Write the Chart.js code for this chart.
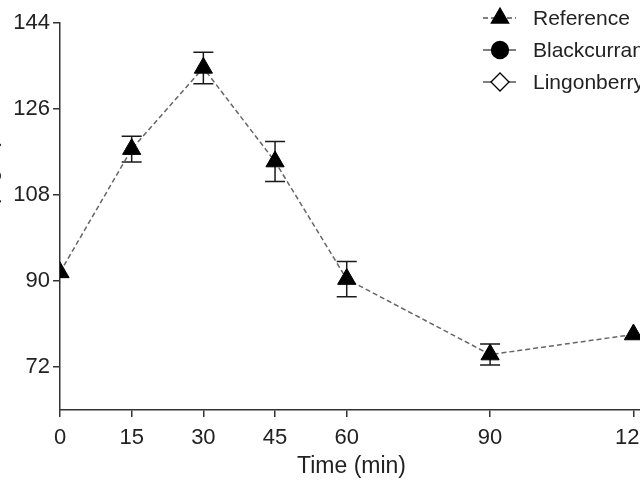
<!DOCTYPE html>
<html>
<head>
<meta charset="utf-8">
<script src="https://cdn.jsdelivr.net/npm/chart.js@4"></script>
<style>
    html, body { margin: 0; padding: 0; background: #fff; overflow: hidden; width: 640px; height: 480px; }
    #wrap { position: absolute; left: -25px; top: 0; width: 720px; height: 480px; }
</style>
</head>
<body>
<div id="wrap"><canvas id="glucoseChart" width="720" height="480"></canvas></div>
<script>
// -------------------------------------------------------------------------- Data

const times = [0, 15, 30, 45, 60, 90, 120]
const referenceMean = [91.8, 117.6, 134.6, 115.0, 90.4, 74.6, 78.8]
// sem of 0 = bar hidden behind the symbol
const referenceSem = [0, 2.7, 3.3, 4.2, 3.7, 2.2, 0]
const blackcurrantMean = []
const lingonberryMean = []

const xTicks = [0, 15, 30, 45, 60, 90, 120]
const yTicks = [72, 90, 108, 126, 144]

const ink = '#222'
const axisInk = '#333'
const fontFamily = "'Liberation Sans', Arial, sans-serif"

// -------------------------------------------------------------------------- Plugins

// error bars (mean +/- sem), drawn under the markers
const errorBars = {
    id: 'errorBars',
    beforeDatasetsDraw(chart) {
        const ctx = chart.ctx
        const x = chart.scales.x
        const y = chart.scales.y
        chart.data.datasets.forEach(ds => {
            if (!ds.sem) return
            ctx.save()
            ctx.strokeStyle = '#1a1a1a'
            ctx.lineWidth = 1.5
            ds.data.forEach((p, i) => {
                if (!ds.sem[i]) return
                const px = x.getPixelForValue(p.x)
                const top = y.getPixelForValue(p.y + ds.sem[i])
                const bot = y.getPixelForValue(p.y - ds.sem[i])
                ctx.beginPath()
                ctx.moveTo(px, top); ctx.lineTo(px, bot)
                ctx.moveTo(px - 10, top); ctx.lineTo(px + 10, top)
                ctx.moveTo(px - 10, bot); ctx.lineTo(px + 10, bot)
                ctx.stroke()
            })
            ctx.restore()
        })
    }
}

// prism style legend: line through marker, top right over the plot
const prismLegend = {
    id: 'prismLegend',
    afterDraw(chart, args, opts) {
        const ctx = chart.ctx
        ctx.save()
        chart.data.datasets.forEach((ds, i) => {
            const cy = opts.top + i * opts.rowGap
            ctx.strokeStyle = '#555'
            ctx.lineWidth = 1.3
            ctx.setLineDash(ds.borderDash || [])
            ctx.beginPath()
            ctx.moveTo(opts.x - 17, cy)
            ctx.lineTo(opts.x + 16, cy)
            ctx.stroke()
            ctx.setLineDash([])
            ctx.fillStyle = ds.pointBackgroundColor
            ctx.strokeStyle = '#000'
            Chart.helpers.drawPoint(ctx, {
                pointStyle: ds.pointStyle,
                radius: ds.legendRadius,
                rotation: 0,
                borderWidth: 1.2
            }, opts.x, cy)
            ctx.fillStyle = ink
            ctx.font = '21px ' + fontFamily
            ctx.textBaseline = 'middle'
            ctx.textAlign = 'left'
            ctx.fillText(ds.label, opts.x + 33, cy + 1)
        })
        ctx.restore()
    }
}

// -------------------------------------------------------------------------- Chart Config

const toPoints = (xs, ys) => ys.map((v, i) => ({ x: xs[i], y: v }))

const dataGlucose = {
    datasets: [{
        label: 'Reference',
        data: toPoints(times, referenceMean),
        sem: referenceSem,
        borderColor: '#666',
        borderWidth: 1.5,
        borderDash: [5, 3],
        pointStyle: 'triangle',
        pointRadius: 10.5,
        pointBackgroundColor: '#000',
        pointBorderColor: '#000',
        pointBorderWidth: 1,
        legendRadius: 10,
        tension: 0
    }, {
        label: 'Blackcurrant',
        data: toPoints(times, blackcurrantMean),
        borderColor: '#555',
        pointStyle: 'circle',
        pointRadius: 8,
        pointBackgroundColor: '#000',
        legendRadius: 8.5
    }, {
        label: 'Lingonberry',
        data: toPoints(times, lingonberryMean),
        borderColor: '#555',
        pointStyle: 'rectRot',
        pointRadius: 9,
        pointBackgroundColor: '#fff',
        legendRadius: 9
    }]
}

const configGlucose = {
    type: 'line',
    data: dataGlucose,
    plugins: [errorBars, prismLegend],
    options: {
        responsive: false,
        animation: false,
        layout: { padding: { top: 23, right: 52, left: 0, bottom: 0 } },
        plugins: {
            legend: { display: false },
            tooltip: { enabled: false },
            prismLegend: { x: 525, top: 18, rowGap: 32 }
        },
        scales: {
            x: {
                type: 'linear',
                min: 0,
                max: 122,
                afterBuildTicks: s => { s.ticks = xTicks.map(v => ({ value: v })) },
                afterFit: s => { s.height = 70 },
                ticks: { color: ink, font: { family: fontFamily, size: 22 }, padding: 8, maxRotation: 0 },
                grid: { drawOnChartArea: false, tickLength: 7, color: axisInk, lineWidth: 1.5 },
                border: { color: axisInk, width: 1.5 },
                title: { display: true, text: 'Time (min)', color: ink, font: { family: fontFamily, size: 23 }, padding: 0 }
            },
            y: {
                min: 63,
                max: 144,
                afterBuildTicks: s => { s.ticks = yTicks.map(v => ({ value: v })) },
                afterFit: s => { s.width = 85 },
                ticks: { color: ink, font: { family: fontFamily, size: 22 }, padding: 3 },
                grid: { drawOnChartArea: false, tickLength: 7, color: axisInk, lineWidth: 1.5 },
                border: { color: axisInk, width: 1.5 },
                title: { display: true, text: 'Glucose (mg/dl)', color: ink, font: { family: fontFamily, size: 22 }, padding: { top: 2, bottom: 0 } }
            }
        }
    }
}

// -------------------------------------------------------------------------- Render Chart
let glucoseChart = new Chart(
    document.getElementById('glucoseChart'),
    configGlucose
)
</script>
</body>
</html>
